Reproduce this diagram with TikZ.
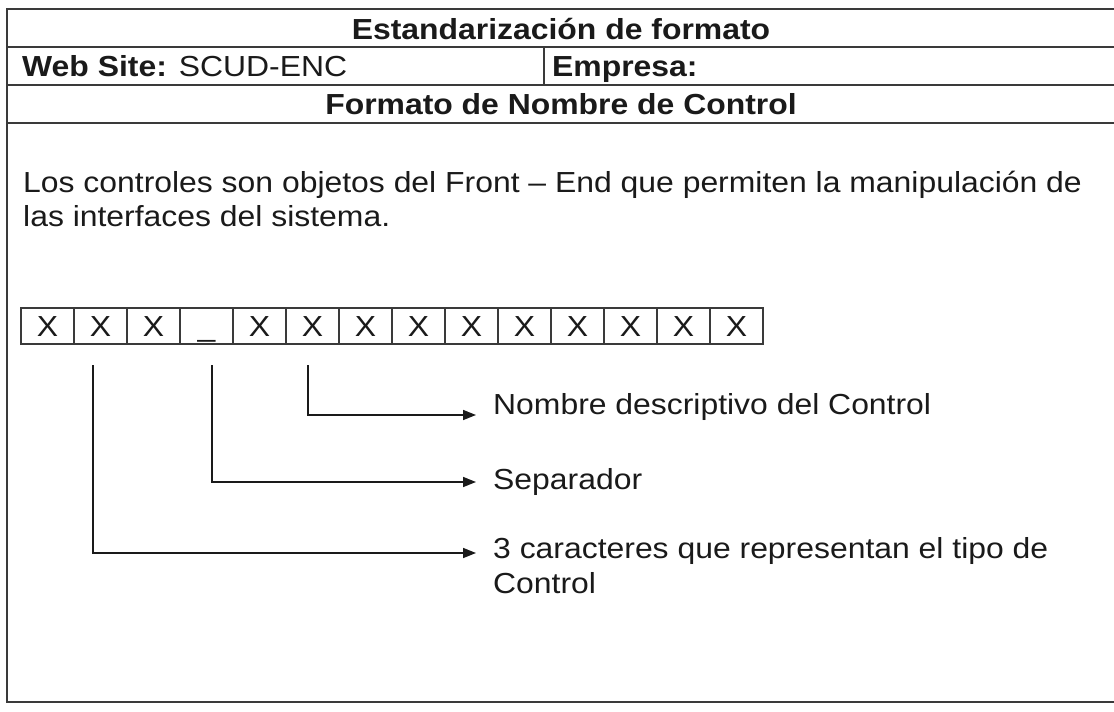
\documentclass[tikz,border=0pt]{standalone}
\usepackage{fontspec}
\setmainfont{Liberation Sans}[FakeStretch=1.1]
\usetikzlibrary{arrows.meta}
\definecolor{ink}{HTML}{1A1A1A}
\definecolor{rule}{HTML}{3A3A3A}
\begin{document}
\begin{tikzpicture}[x=1pt,y=-1pt,
  txt/.style={inner sep=0pt, font=\fontsize{29}{35}\selectfont, text=ink},
  tbl/.style={draw=rule, line width=1.8pt},
  cellbox/.style={draw=rule, line width=1.1pt, minimum width=53pt, minimum height=36pt,
    inner sep=0pt, text height=21pt, text depth=0pt, font=\fontsize{29}{30}\selectfont, text=ink},
  conn/.style={draw=ink, line width=1.6pt, -{Triangle[length=13pt,width=10pt]}}]
\useasboundingbox (0,0) rectangle (1114,712);
\fill[white] (0,0) rectangle (1114,712);
% table frame
\draw[tbl] (1125,9) -- (7,9) -- (7,702) -- (1125,702);
\draw[tbl] (7,47) -- (1125,47);
\draw[tbl] (7,85) -- (1125,85);
\draw[tbl] (7,123) -- (1125,123);
\draw[tbl] (544,47) -- (544,85);
% header texts
\node[txt, anchor=base] (title) at (561,39) {\bfseries Estandarización de formato};
\node[txt, anchor=base west] (web) at (22,76) {\textbf{Web Site:} SCUD-ENC};
\node[txt, anchor=base west] (emp) at (552,76) {\textbf{Empresa:}};
\node[txt, anchor=base] (fmt) at (561,114) {\bfseries Formato de Nombre de Control};
% paragraph
\node[txt, anchor=base west] (p1) at (23,192) {Los controles son objetos del Front – End que permiten la manipulación de};
\node[txt, anchor=base west] (p2) at (23,226) {las interfaces del sistema.};
% cells
\foreach \i in {1,...,14}
  \node[cellbox] (c\i) at ({21+53*(\i-0.5)},326) {\ifnum\i=4 \_\else X\fi};
% labels
\node[txt, anchor=base west] (l1) at (493,414) {Nombre descriptivo del Control};
\node[txt, anchor=west] (l2) at (493,482) {Separador};
\node[txt, anchor=north west, align=left] (l3) at (493,537) {3 caracteres que representan el tipo de\\Control};
% connector ends
\coordinate (s1) at (308,365);
\coordinate (s2) at (212,365);
\coordinate (s3) at (93,365);
\coordinate (e1) at (476,415);
\coordinate (e2) at (476,482);
\coordinate (e3) at (476,553);
\draw[conn] (s1) |- (e1);
\draw[conn] (s2) |- (e2);
\draw[conn] (s3) |- (e3);
\end{tikzpicture}
\end{document}
